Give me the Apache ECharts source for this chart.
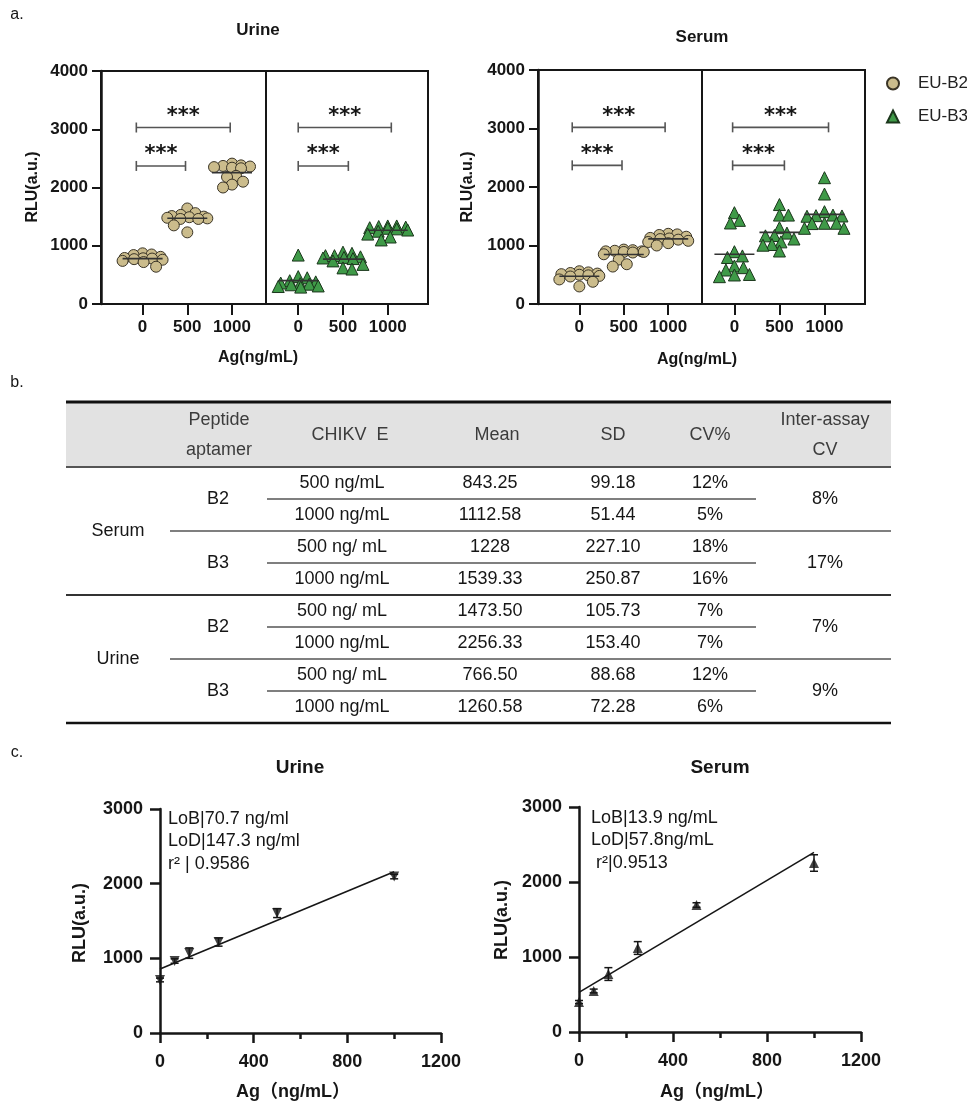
<!DOCTYPE html>
<html><head><meta charset="utf-8">
<script src="https://cdn.jsdelivr.net/npm/echarts@6/dist/echarts.min.js"></script>
<style>html,body{margin:0;padding:0;background:#fff}#c{width:967px;height:1103px}</style>
</head><body><div id="c"></div>
<script>
// ---------- DATA ----------
const doses = [0, 500, 1000];
const seriesNames = ['EU-B2', 'EU-B3'];
// panel a: individual RLU values (12 replicates) per dose 0 / 500 / 1000
const urineB2 = [
  [870, 850, 840, 810, 790, 785, 780, 770, 760, 740, 720, 640],
  [1640, 1560, 1530, 1510, 1500, 1490, 1480, 1470, 1460, 1460, 1350, 1230],
  [2410, 2380, 2370, 2360, 2350, 2340, 2330, 2200, 2180, 2100, 2050, 2000]
];
const urineB3 = [
  [840, 470, 450, 400, 380, 360, 350, 340, 330, 310, 300, 290],
  [890, 870, 830, 830, 810, 800, 790, 780, 740, 680, 620, 600],
  [1340, 1340, 1330, 1320, 1310, 1300, 1290, 1270, 1250, 1200, 1150, 1100]
];
const serumB2 = [
  [560, 540, 530, 520, 510, 500, 490, 480, 470, 420, 380, 300],
  [930, 920, 910, 900, 900, 890, 890, 880, 850, 760, 680, 640],
  [1200, 1190, 1180, 1150, 1130, 1120, 1110, 1100, 1080, 1060, 1040, 1000]
];
const serumB3 = [
  [1561, 1430, 1385, 894, 822, 795, 650, 621, 581, 505, 496, 467],
  [1700, 1520, 1520, 1304, 1212, 1171, 1165, 1111, 1062, 1017, 1005, 906],
  [2159, 1880, 1578, 1520, 1510, 1505, 1500, 1380, 1380, 1375, 1294, 1294]
];
// significance brackets: [from dose, to dose, RLU level]
const sigUrineB2 = [[-70, 980, 3030], [-70, 480, 2370]];
const sigUrineB3 = [[0, 1040, 3030], [0, 560, 2370]];
const sigSerumB2 = [[-80, 965, 3020], [-80, 480, 2370]];
const sigSerumB3 = [[-20, 1045, 3020], [-20, 555, 2370]];
const sigLabel = '***';

// panel b: table
const tableHeaders = [['Peptide', 'aptamer'], ['CHIKV  E'], ['Mean'], ['SD'], ['CV%'], ['Inter-assay', 'CV']];
const sampleTypes = ['Serum', 'Urine'];
const aptamers = ['B2', 'B3', 'B2', 'B3'];
const concentrations = ['500 ng/mL', '1000 ng/mL', '500 ng/ mL', '1000 ng/mL', '500 ng/ mL', '1000 ng/mL', '500 ng/ mL', '1000 ng/mL'];
const means = ['843.25', '1112.58', '1228', '1539.33', '1473.50', '2256.33', '766.50', '1260.58'];
const sds = ['99.18', '51.44', '227.10', '250.87', '105.73', '153.40', '88.68', '72.28'];
const cvs = ['12%', '5%', '18%', '16%', '7%', '7%', '12%', '6%'];
const interCV = ['8%', '17%', '7%', '9%'];

// panel c: calibration curves
const cDoses = [0, 62.5, 125, 250, 500, 1000];
const urineCurveMean = [710, 964, 1070, 1218, 1606, 2095];
const urineCurveSD = [25, 30, 70, 55, 60, 30];
const serumCurveMean = [400, 547, 773, 1120, 1693, 2253];
const serumCurveSD = [20, 25, 85, 85, 30, 110];
const urineStats = ['LoB|70.7 ng/ml', 'LoD|147.3 ng/ml', 'r² | 0.9586'];
const serumStats = ['LoB|13.9 ng/mL', 'LoD|57.8ng/mL', ' r²|0.9513'];

// ---------- STYLE / LAYOUT ----------
const FF = "'Liberation Sans', Arial, Helvetica, 'Noto Sans CJK SC', sans-serif";
const INK = '#161616';
const TAN = '#cbbc8c', TAN_B = '#3a3426';
const GRN = '#3f9a48', GRN_B = '#1b361c';
const gA = [
  {left: 101, top: 71, width: 165, height: 233, min: -465, max: 1380},
  {left: 266, top: 71, width: 162, height: 233, min: -360, max: 1450},
  {left: 538, top: 70, width: 164, height: 234, min: -465, max: 1380},
  {left: 702, top: 70, width: 163, height: 234, min: -360, max: 1450}
];
const gC = [
  {left: 160, top: 809, width: 281, height: 224},
  {left: 579, top: 807, width: 282, height: 225}
];
const plain = function (v) { return String(v); };

function font(size, weight) { return (weight || 'normal') + ' ' + size + 'px ' + FF; }
function txt(x, y, text, size, weight, extra) {
  return Object.assign({
    type: 'text', x: x, y: y, silent: true,
    style: {text: text, font: font(size, weight), fill: INK,
      align: 'center', verticalAlign: 'middle', textAlign: 'center', textVerticalAlign: 'middle'}
  }, extra || {});
}
function hline(x1, x2, y, w, c) {
  return {type: 'line', silent: true, shape: {x1: x1, y1: y, x2: x2, y2: y}, style: {stroke: c || INK, lineWidth: w}};
}

// beeswarm-like layout: horizontal pixel offsets within +-spread, minimising overlap
function swarm(vals, kx, ky, d, spread) {
  const placed = [];
  return vals.map(function (v) {
    const py = v * ky;
    let best = 0, bestPen = Infinity;
    for (let s = 0; s <= spread * 4; s++) {
      const mag = Math.ceil(s / 2) * 0.5, cand = s % 2 ? mag : -mag;
      let pen = 0;
      placed.forEach(function (p) {
        const dist = Math.sqrt((cand - p[0]) ** 2 + (py - p[1]) ** 2);
        if (dist < d) pen += (d - dist);
      });
      if (pen < bestPen - 1e-9) { bestPen = pen; best = cand; }
      if (pen === 0) break;
    }
    placed.push([best, py]);
    return best / kx;
  });
}
function mean(a) { return a.reduce(function (s, v) { return s + v; }, 0) / a.length; }

// ---------- AXES ----------
const grids = [], xAxes = [], yAxes = [], series = [];
gA.forEach(function (g, i) {
  grids.push({left: g.left, top: g.top, width: g.width, height: g.height, show: true,
    borderColor: INK, borderWidth: 2, backgroundColor: 'transparent'});
  xAxes.push({gridIndex: i, type: 'value', min: g.min, max: g.max,
    axisLine: {show: true, onZero: false, lineStyle: {color: INK, width: 2}},
    axisTick: {show: true, inside: false, length: 11, customValues: doses, lineStyle: {color: INK, width: 2}},
    axisLabel: {show: true, customValues: doses, formatter: plain, margin: 15, color: INK, fontSize: 17, fontWeight: 'bold', fontFamily: FF},
    splitLine: {show: false}});
  const showY = (i % 2 === 0);
  yAxes.push({gridIndex: i, type: 'value', min: 0, max: 4000, interval: 1000, show: showY,
    axisLine: {show: true, onZero: false, lineStyle: {color: INK, width: 2.5}},
    axisTick: {show: true, length: 9, lineStyle: {color: INK, width: 2}},
    axisLabel: {margin: 13, formatter: plain, color: INK, fontSize: 17, fontWeight: 'bold', fontFamily: FF},
    splitLine: {show: false}});
});
gC.forEach(function (g, j) {
  const i = gA.length + j;
  grids.push({left: g.left, top: g.top, width: g.width, height: g.height});
  xAxes.push({gridIndex: i, type: 'value', min: 0, max: 1200, interval: 400,
    axisLine: {show: true, onZero: false, lineStyle: {color: INK, width: 2.5}},
    axisTick: {show: true, length: 10, lineStyle: {color: INK, width: 2.5}},
    minorTick: {show: true, splitNumber: 2, length: 6, lineStyle: {color: INK, width: 2.5}},
    axisLabel: {margin: 20, formatter: plain, color: INK, fontSize: 18, fontWeight: 'bold', fontFamily: FF},
    splitLine: {show: false}, minorSplitLine: {show: false}});
  yAxes.push({gridIndex: i, type: 'value', min: 0, max: 3000, interval: 1000,
    axisLine: {show: true, onZero: false, lineStyle: {color: INK, width: 2.5}},
    axisTick: {show: true, length: 10, lineStyle: {color: INK, width: 2.5}},
    axisLabel: {margin: 17, formatter: plain, color: INK, fontSize: 18, fontWeight: 'bold', fontFamily: FF},
    splitLine: {show: false}});
});

// ---------- PANEL A SERIES ----------
const panelA = [
  {gi: 0, groups: urineB2, sig: sigUrineB2, name: seriesNames[0], sym: 'circle', fill: TAN, border: TAN_B},
  {gi: 1, groups: urineB3, sig: sigUrineB3, name: seriesNames[1], sym: 'triangle', fill: GRN, border: GRN_B},
  {gi: 2, groups: serumB2, sig: sigSerumB2, name: seriesNames[0], sym: 'circle', fill: TAN, border: TAN_B},
  {gi: 3, groups: serumB3, sig: sigSerumB3, name: seriesNames[1], sym: 'triangle', fill: GRN, border: GRN_B}
];
panelA.forEach(function (p) {
  const g = gA[p.gi];
  const kx = g.width / (g.max - g.min), ky = g.height / 4000;
  const pts = [], meansData = [];
  p.groups.forEach(function (vals, k) {
    const offs = swarm(vals, kx, ky, 9, 20);
    vals.forEach(function (v, n) { pts.push([doses[k] + offs[n], v]); });
    meansData.push([doses[k], mean(vals)]);
  });
  series.push({type: 'scatter', name: p.name, xAxisIndex: p.gi, yAxisIndex: p.gi, data: pts,
    symbol: p.sym, symbolSize: p.sym === 'circle' ? 11 : 12, clip: false, z: 3,
    itemStyle: {color: p.fill, borderColor: p.border, borderWidth: 1, opacity: 1}});
  series.push({type: 'custom', xAxisIndex: p.gi, yAxisIndex: p.gi, data: meansData, z: 4, silent: true,
    encode: {x: 0, y: 1},
    renderItem: function (params, api) {
      const c = api.coord([api.value(0), api.value(1)]);
      return {type: 'line', shape: {x1: c[0] - 20, y1: c[1], x2: c[0] + 20, y2: c[1]},
        style: {stroke: '#333', lineWidth: 1.6}};
    }});
  series.push({type: 'custom', xAxisIndex: p.gi, yAxisIndex: p.gi, data: p.sig, z: 4, silent: true,
    encode: {x: [0, 1], y: 2},
    renderItem: function (params, api) {
      const a = api.coord([api.value(0), api.value(2)]);
      const b = api.coord([api.value(1), api.value(2)]);
      const st = {stroke: '#555', lineWidth: 1.6};
      return {type: 'group', children: [
        {type: 'line', shape: {x1: a[0], y1: a[1], x2: b[0], y2: b[1]}, style: st},
        {type: 'line', shape: {x1: a[0], y1: a[1] - 5, x2: a[0], y2: a[1] + 5}, style: st},
        {type: 'line', shape: {x1: b[0], y1: b[1] - 5, x2: b[0], y2: b[1] + 5}, style: st},
        {type: 'text', x: (a[0] + b[0]) / 2, y: a[1] - 11,
          style: {text: sigLabel, font: "bold 21px 'DejaVu Sans', sans-serif", fill: INK,
            align: 'center', verticalAlign: 'middle', textAlign: 'center', textVerticalAlign: 'middle'}}
      ]};
    }});
});

// ---------- PANEL C SERIES ----------
function fit(xs, ys) {
  const mx = mean(xs), my = mean(ys);
  let sxy = 0, sxx = 0;
  xs.forEach(function (x, i) { sxy += (x - mx) * (ys[i] - my); sxx += (x - mx) ** 2; });
  const m = sxy / sxx;
  return {m: m, b: my - m * mx};
}
[{gi: 4, m: urineCurveMean, sd: urineCurveSD, rot: 180}, {gi: 5, m: serumCurveMean, sd: serumCurveSD, rot: 0}].forEach(function (p) {
  const f = fit(cDoses, p.m);
  const xEnd = cDoses[cDoses.length - 1];
  series.push({type: 'line', xAxisIndex: p.gi, yAxisIndex: p.gi, showSymbol: false, symbol: 'none', silent: true,
    data: [[0, f.b], [xEnd, f.b + f.m * xEnd]], lineStyle: {color: INK, width: 1.6}, z: 2});
  series.push({type: 'custom', xAxisIndex: p.gi, yAxisIndex: p.gi, z: 3, silent: true,
    data: cDoses.map(function (x, i) { return [x, p.m[i], p.sd[i]]; }),
    encode: {x: 0, y: 1},
    renderItem: function (params, api) {
      const x = api.value(0), y = api.value(1), s = api.value(2);
      const t = api.coord([x, y + s]), b = api.coord([x, y - s]);
      const st = {stroke: INK, lineWidth: 1.5};
      return {type: 'group', children: [
        {type: 'line', shape: {x1: t[0], y1: t[1], x2: b[0], y2: b[1]}, style: st},
        {type: 'line', shape: {x1: t[0] - 4, y1: t[1], x2: t[0] + 4, y2: t[1]}, style: st},
        {type: 'line', shape: {x1: b[0] - 4, y1: b[1], x2: b[0] + 4, y2: b[1]}, style: st}
      ]};
    }});
  series.push({type: 'scatter', xAxisIndex: p.gi, yAxisIndex: p.gi, clip: false, z: 4, silent: true,
    data: cDoses.map(function (x, i) { return [x, p.m[i]]; }),
    symbol: 'triangle', symbolSize: 10, symbolRotate: p.rot, itemStyle: {color: INK}});
});

// ---------- TEXT / TABLE GRAPHICS ----------
const G = [];
G.push(txt(17, 15, 'a.', 16));
G.push(txt(17, 383, 'b.', 16));
G.push(txt(17, 753, 'c.', 16));
G.push(txt(258, 30, 'Urine', 17, 'bold'));
G.push(txt(702, 37, 'Serum', 17, 'bold'));
G.push(txt(258, 358, 'Ag(ng/mL)', 16, 'bold'));
G.push(txt(697, 360, 'Ag(ng/mL)', 16, 'bold'));
G.push(txt(33, 187, 'RLU(a.u.)', 16, 'bold', {rotation: Math.PI / 2}));
G.push(txt(468, 187, 'RLU(a.u.)', 16, 'bold', {rotation: Math.PI / 2}));
// panel c text
G.push(txt(300, 768, 'Urine', 19, 'bold'));
G.push(txt(720, 768, 'Serum', 19, 'bold'));
G.push(txt(293, 1092, 'Ag（ng/mL）', 18, 'bold'));
G.push(txt(717, 1092, 'Ag（ng/mL）', 18, 'bold'));
G.push(txt(80, 923, 'RLU(a.u.)', 18, 'bold', {rotation: Math.PI / 2}));
G.push(txt(502, 920, 'RLU(a.u.)', 18, 'bold', {rotation: Math.PI / 2}));
urineStats.forEach(function (s, i) {
  const t = txt(168, 819 + 22.5 * i, s, 18);
  t.style.align = 'left'; t.style.textAlign = 'left'; G.push(t);
});
serumStats.forEach(function (s, i) {
  const t = txt(591, 818 + 22.5 * i, s, 18);
  t.style.align = 'left'; t.style.textAlign = 'left'; G.push(t);
});
// table
const TL = 66, TR = 891, TT = 402, TH = 467, RH = 32;
const colHead = [219, 350, 497, 613, 710, 825];
const colBody = {sample: 118, apt: 218, conc: 342, mean: 490, sd: 613, cv: 710, inter: 825};
G.push({type: 'rect', silent: true, shape: {x: TL, y: TT, width: TR - TL, height: TH - TT}, style: {fill: '#e2e2e2'}});
tableHeaders.forEach(function (h, i) {
  const ys = h.length === 2 ? [420, 450] : [435];
  h.forEach(function (line, k) {
    const t = txt(colHead[i], ys[k], line, 18);
    t.style.fill = '#3c3c3c';
    G.push(t);
  });
});
for (let r = 0; r < 8; r++) {
  const yc = TH + RH * r + RH / 2;
  G.push(txt(colBody.conc, yc, concentrations[r], 18));
  G.push(txt(colBody.mean, yc, means[r], 18));
  G.push(txt(colBody.sd, yc, sds[r], 18));
  G.push(txt(colBody.cv, yc, cvs[r], 18));
}
for (let k = 0; k < 4; k++) {
  const yc = TH + RH * 2 * k + RH;
  G.push(txt(colBody.apt, yc, aptamers[k], 18));
  G.push(txt(colBody.inter, yc, interCV[k], 18));
}
sampleTypes.forEach(function (s, k) { G.push(txt(colBody.sample, TH + RH * 4 * k + RH * 2, s, 18)); });
G.push(hline(TL, TR, TT, 3, '#111'));
G.push(hline(TL, TR, TH, 2, '#555'));
for (let r = 1; r < 8; r++) {
  const y = TH + RH * r;
  if (r === 4) G.push(hline(TL, TR, y, 2, '#333'));
  else if (r % 2 === 0) G.push(hline(170, TR, y, 1.5, '#555'));
  else G.push(hline(267, 756, y, 1.5, '#555'));
}
G.push(hline(TL, TR, TH + RH * 8, 2.5, '#111'));

// ---------- CHART ----------
const chart = echarts.init(document.getElementById('c'), null, {renderer: 'canvas'});
chart.setOption({
  animation: false,
  backgroundColor: '#fff',
  textStyle: {fontFamily: FF},
  grid: grids, xAxis: xAxes, yAxis: yAxes, series: series,
  legend: {data: seriesNames, orient: 'vertical', left: 881, top: 70, itemWidth: 12, itemHeight: 12, itemGap: 16,
    selectedMode: false,
    textStyle: {fontSize: 17, color: '#222', fontFamily: FF, padding: [0, 0, 0, 14]}},
  graphic: G
});
</script></body></html>
